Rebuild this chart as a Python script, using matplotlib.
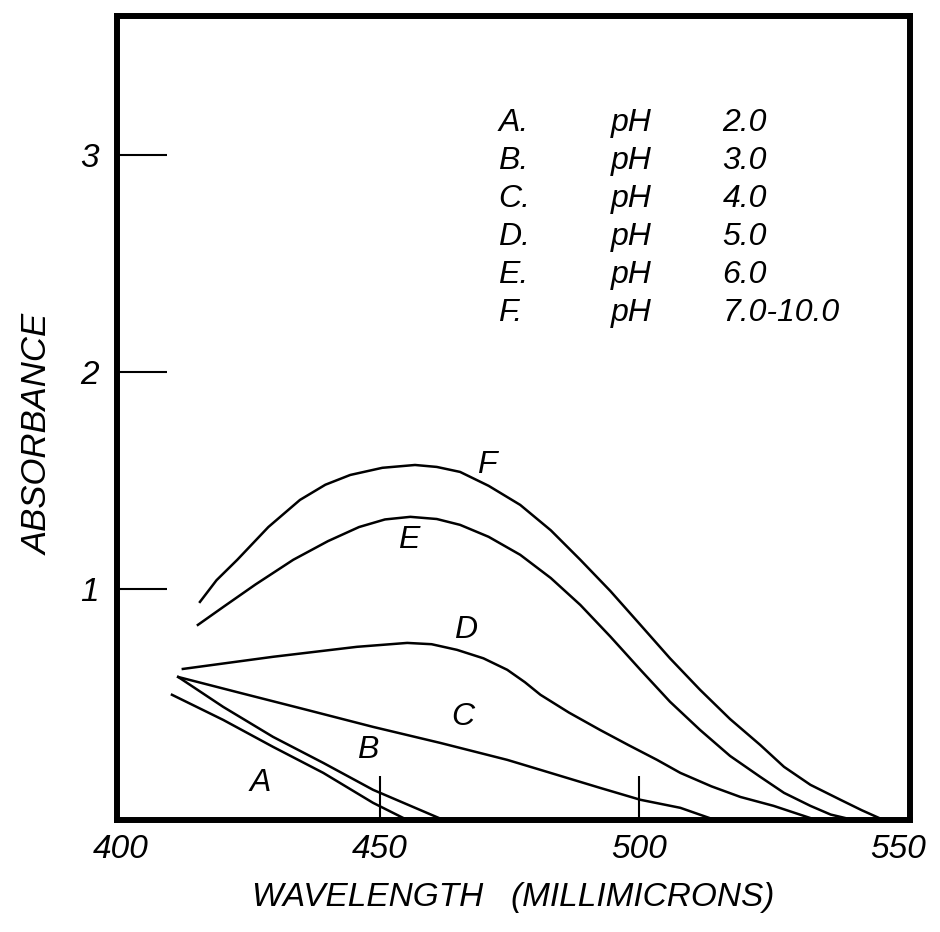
import numpy as np
import matplotlib.pyplot as plt

# Absorbance curves (wavelength in millimicrons)
wl_a = [409.9, 419.8, 429.4, 439.1, 448.7, 455.3]
abs_a = [0.512, 0.396, 0.272, 0.152, 0.014, -0.065]

wl_b = [411.1, 419.8, 429.4, 439.1, 448.7, 462.3]
abs_b = [0.594, 0.456, 0.318, 0.198, 0.074, -0.065]

wl_c = [411.1, 423.0, 436.0, 448.7, 461.7, 474.6, 481.0, 492.5, 500.3, 508.0, 514.7]
abs_c = [0.594, 0.521, 0.442, 0.364, 0.290, 0.212, 0.166, 0.083, 0.028, -0.009, -0.065]

wl_d = [412.0, 429.4, 445.6, 455.3, 460.0, 464.9, 470.0, 474.6, 478.0, 481.0, 486.5,
        492.5, 498.0, 503.5, 508.0, 514.0, 519.6, 526.0, 534.2]
abs_d = [0.631, 0.687, 0.733, 0.751, 0.745, 0.719, 0.680, 0.627, 0.570, 0.512, 0.430,
         0.350, 0.280, 0.212, 0.152, 0.090, 0.041, 0.000, -0.065]

wl_e = [414.9, 420.0, 426.0, 433.3, 440.0, 446.0, 451.0, 455.9, 461.0, 465.5, 471.0,
        477.1, 483.0, 488.7, 494.5, 500.3, 506.0, 511.8, 517.6, 523.4, 528.0, 533.1,
        537.0, 541.4]
abs_e = [0.834, 0.920, 1.020, 1.134, 1.220, 1.285, 1.320, 1.332, 1.322, 1.295, 1.240,
         1.157, 1.050, 0.926, 0.780, 0.627, 0.480, 0.350, 0.230, 0.134, 0.060, 0.000,
         -0.040, -0.065]

wl_f = [415.3, 418.5, 422.5, 428.5, 434.6, 439.5, 444.3, 450.5, 456.8, 461.0, 465.5,
        471.0, 477.1, 483.0, 488.7, 494.5, 500.3, 506.0, 511.8, 517.6, 523.4, 528.0,
        533.1, 538.9, 543.0, 547.2]
abs_f = [0.940, 1.040, 1.134, 1.285, 1.410, 1.480, 1.525, 1.558, 1.571, 1.562, 1.539,
         1.475, 1.387, 1.270, 1.134, 0.990, 0.834, 0.680, 0.535, 0.400, 0.281, 0.180,
         0.097, 0.028, -0.020, -0.065]

curve_names = ["A", "B", "C", "D", "E", "F"]
ph_values = ["2.0", "3.0", "4.0", "5.0", "6.0", "7.0-10.0"]

x_ticks = [400, 450, 500, 550]
x_marks = [450, 500]
y_ticks = [1, 2, 3]

FONT = "Liberation Sans"

fig = plt.figure(figsize=(9.4, 9.32), dpi=100)
ax = fig.add_axes([0.1245, 0.1202, 0.8435, 0.8626])

curves = [(wl_a, abs_a), (wl_b, abs_b), (wl_c, abs_c),
          (wl_d, abs_d), (wl_e, abs_e), (wl_f, abs_f)]
for wl, ab in curves:
    ax.plot(wl, ab, color="black", lw=1.8, solid_joinstyle="round")

ax.set_xlim(399.3, 552.3)
ax.set_ylim(-0.065, 3.64)

# spines drawn heavy, like the inked frame
for sp in ax.spines.values():
    sp.set_linewidth(4.3)

ax.set_xticks(x_ticks)
ax.set_xticklabels([str(t) for t in x_ticks])
ax.xaxis.remove_overlapping_locs = False
ax.set_xticks(x_marks, minor=True)
ax.tick_params(axis="x", which="major", length=0, pad=10)
ax.tick_params(axis="x", which="minor", direction="in", length=32, width=1.5)
ax.set_yticks(y_ticks)
ax.set_yticklabels([str(t) for t in y_ticks])
ax.tick_params(axis="y", which="major", direction="in", length=36, width=1.5, pad=13)
ax.tick_params(top=False, right=False)

for lab in ax.get_xticklabels() + ax.get_yticklabels():
    lab.set_fontfamily(FONT)
    lab.set_fontstyle("italic")
    lab.set_fontsize(24)

ax.set_xlabel("WAVELENGTH   (MILLIMICRONS)", fontfamily=FONT, fontstyle="italic",
              fontsize=24, labelpad=12)
ax.set_ylabel("ABSORBANCE", fontfamily=FONT, fontstyle="italic", fontsize=25)
ax.yaxis.set_label_coords(-0.078, 0.479)

# key in the upper part of the plot
row_y = [3.147, 2.972, 2.797, 2.622, 2.447, 2.272]
for name, ph, y in zip(curve_names, ph_values, row_y):
    kw = dict(fontfamily=FONT, fontstyle="italic", fontsize=23, va="center")
    ax.text(472.9, y, name + ".", **kw)
    ax.text(494.5, y, "pH", **kw)
    ax.text(516.1, y, ph, **kw)

# letters beside each curve
label_pos = {"A": (426.9, 0.106), "B": (447.6, 0.258), "C": (466.1, 0.410),
             "D": (466.5, 0.811), "E": (455.5, 1.226), "F": (470.7, 1.571)}
for name in curve_names:
    x, y = label_pos[name]
    ax.text(x, y, name, fontfamily=FONT, fontstyle="italic", fontsize=23,
            ha="center", va="center")

fig.savefig("out.png", dpi=100)
